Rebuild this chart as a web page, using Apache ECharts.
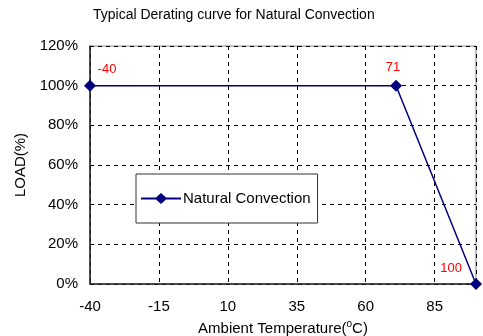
<!DOCTYPE html>
<html><head><meta charset="utf-8">
<script src="https://cdn.jsdelivr.net/npm/echarts@6/dist/echarts.min.js"></script>
<style>html,body{margin:0;padding:0;background:#fff}#c{width:483px;height:336px}</style>
</head><body><div id="c"></div>
<script>
var titleText = 'Typical Derating curve for Natural Convection';
var seriesName = 'Natural Convection';
var temps = [-40, 71, 100];
var loads = [100, 100, 0];
var pointLabels = ['-40', '71', '100'];
var xTicks = [-40, -15, 10, 35, 60, 85];
var labelPlacement = [
  {position: 'top', offset: [17, 1]},
  {position: 'top', offset: [-3, -1]},
  {position: 'left', offset: [-3, -16]}
];
var FONT = 'Liberation Sans, Arial, sans-serif';
var chart = echarts.init(document.getElementById('c'));
var data = temps.map(function (t, i) {
  return {
    value: [t, loads[i]],
    label: {
      show: true, formatter: pointLabels[i], color: '#ff0000', fontSize: 13, fontFamily: FONT,
      position: labelPlacement[i].position, offset: labelPlacement[i].offset
    }
  };
});
chart.setOption({
  animation: false,
  backgroundColor: '#fff',
  title: {
    text: titleText, left: 93, top: 8, padding: 0,
    textStyle: {fontSize: 14, fontWeight: 'normal', color: '#000', fontFamily: FONT}
  },
  legend: {
    left: 136, top: 174, orient: 'horizontal',
    backgroundColor: '#fff', borderColor: '#333', borderWidth: 1,
    padding: [17, 7, 17, 5],
    itemWidth: 40, itemHeight: 11, itemGap: 0,
    textStyle: {fontSize: 15, color: '#000', fontFamily: FONT, padding: [0, 0, 0, -3]},
    data: [{name: seriesName, icon: 'path://M0,4.6 L15,4.6 L20,0 L25,4.6 L40,4.6 L40,6.4 L25,6.4 L20,11 L15,6.4 L0,6.4 Z'}]
  },
  grid: {left: 90, right: 7, top: 46, bottom: 52, containLabel: false, outerBoundsMode: 'none',
    show: true, borderColor: '#888', borderWidth: 1, backgroundColor: '#fff'},
  xAxis: {
    type: 'value', min: -40, max: 100, interval: 25,
    name: 'Ambient Temperature({s|o}C)', nameLocation: 'middle', nameGap: 32,
    nameTextStyle: {fontSize: 15, color: '#000', fontFamily: FONT, rich: {s: {fontSize: 10, verticalAlign: 'top', padding: [0, 0, 9, 0], fontFamily: FONT, color: '#000'}}},
    axisLine: {onZero: false, lineStyle: {color: '#222', width: 1.5}},
    axisTick: {show: false},
    axisLabel: {fontSize: 15, color: '#000', fontFamily: FONT, margin: 15, showMaxLabel: false,
      formatter: function (v) { return xTicks.indexOf(v) >= 0 ? String(v) : ''; }},
    splitLine: {show: true, lineStyle: {color: '#000', type: [4, 4], width: 1}}
  },
  yAxis: {
    type: 'value', min: 0, max: 120, interval: 20,
    name: 'LOAD(%)', nameLocation: 'middle', nameGap: 57, nameRotate: 90,
    nameTextStyle: {fontSize: 15, color: '#000', fontFamily: FONT},
    axisLine: {show: true, onZero: false, lineStyle: {color: '#222', width: 1.5}},
    axisTick: {show: false},
    axisLabel: {fontSize: 15, color: '#000', fontFamily: FONT, margin: 12, formatter: '{value}%'},
    splitLine: {show: true, lineStyle: {color: '#000', type: [4, 4], width: 1}}
  },
  series: [{
    name: seriesName, type: 'line', data: data,
    symbol: 'diamond', symbolSize: 12,
    itemStyle: {color: '#000080'},
    lineStyle: {color: '#000080', width: 1.5},
    z: 5
  }]
});
</script></body></html>
